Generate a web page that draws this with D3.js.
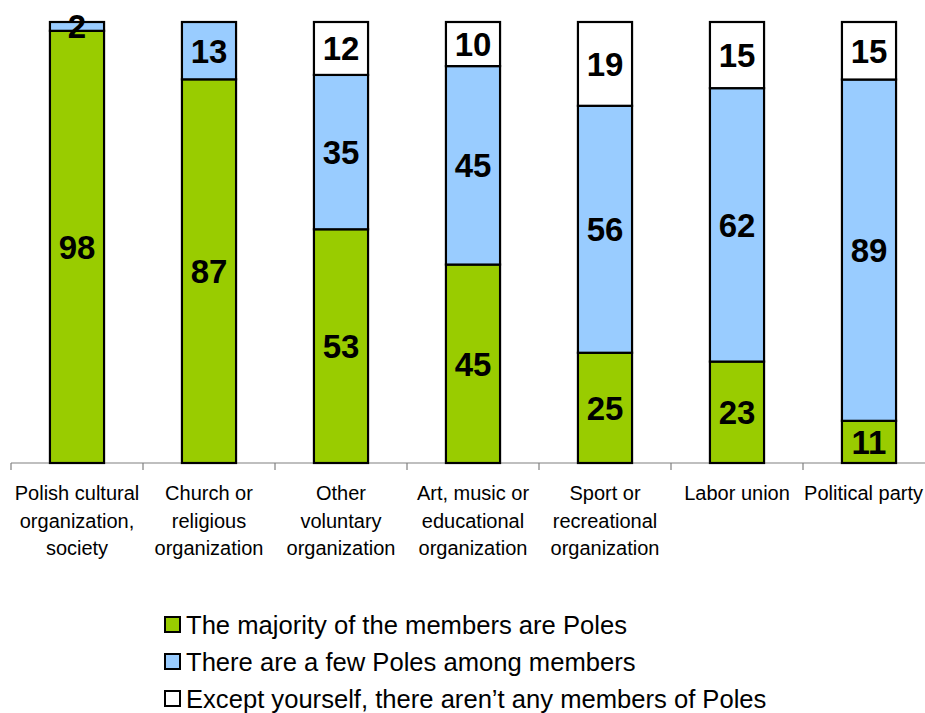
<!DOCTYPE html>
<html><head><meta charset="utf-8">
<script src="https://cdn.jsdelivr.net/npm/d3@7"></script>
<style>body{margin:0;background:#fff}svg{display:block}</style>
</head><body>
<svg id="chart" width="925" height="713"></svg>
<script>
const categories = [
  "Polish cultural|organization,|society",
  "Church or|religious|organization",
  "Other|voluntary|organization",
  "Art, music or|educational|organization",
  "Sport or|recreational|organization",
  "Labor union",
  "Political party"
];
const seriesNames = [
  "The majority of the members are Poles",
  "There are a few Poles among members",
  "Except yourself, there aren\u2019t any members of Poles"
];
const majority = [98, 87, 53, 45, 25, 23, 11];
const few      = [2, 13, 35, 45, 56, 62, 89];
const none     = [0, 0, 12, 10, 19, 15, 15];
const colors = ["#99CC00", "#99CCFF", "#FFFFFF"];

const keys = ["majority", "few", "none"];
const table = categories.map((c, i) => ({cat: c, majority: majority[i], few: few[i], none: none[i]}));
const stacked = d3.stack().keys(keys).offset(d3.stackOffsetExpand)(table);

const svg = d3.select("#chart");
const x = d3.scaleBand().domain(categories).range([11, 935]).padding(0);
const y = d3.scaleLinear().domain([0, 1]).range([463, 22]);
const barW = x.bandwidth() * 0.41;

// axis
const axisG = svg.append("g").attr("transform", "translate(0,463)");
axisG.append("line").attr("x1", 11).attr("x2", 925).attr("y1", 0).attr("y2", 0)
  .attr("stroke", "#808080").attr("stroke-width", 1.2);
const bounds = categories.map(c => x(c)).concat([x.range()[1]]);
axisG.selectAll("line.tick").data(bounds).enter().append("line")
  .attr("class", "tick").attr("x1", d => d).attr("x2", d => d)
  .attr("y1", 0).attr("y2", 7).attr("stroke", "#808080").attr("stroke-width", 1.2);

// bars
const layers = svg.selectAll("g.layer").data(stacked).enter().append("g")
  .attr("class", "layer").attr("fill", (d, i) => colors[i]);
layers.selectAll("rect").data(d => d.filter(s => s[1] - s[0] > 0)).enter().append("rect")
  .attr("x", d => x(d.data.cat) + x.bandwidth() / 2 - barW / 2)
  .attr("width", barW)
  .attr("y", d => y(d[1]))
  .attr("height", d => y(d[0]) - y(d[1]))
  .attr("stroke", "#000").attr("stroke-width", 2.2);

// value labels
stacked.forEach((layer, li) => {
  svg.append("g").selectAll("text").data(layer.filter(s => s[1] - s[0] > 0)).enter().append("text")
    .attr("x", d => x(d.data.cat) + x.bandwidth() / 2)
    .attr("y", d => (y(d[0]) + y(d[1])) / 2)
    .attr("dy", "0.36em")
    .attr("text-anchor", "middle")
    .attr("font-family", "Liberation Sans, Arial, sans-serif")
    .attr("font-weight", "bold").attr("font-size", 33)
    .attr("fill", "#000")
    .text(d => d.data[layer.key]);
});

// category labels
const catG = svg.append("g");
categories.forEach(c => {
  const lines = c.split("|");
  const cx = x(c) + x.bandwidth() / 2;
  const t = catG.append("text")
    .attr("y", 500)
    .attr("font-family", "Liberation Sans, Arial, sans-serif")
    .attr("font-size", 20).attr("fill", "#000");
  lines.forEach((l, i) => {
    t.append("tspan").attr("x", cx).attr("y", 500 + i * 27.5).attr("text-anchor", "middle").text(l);
  });
  // keep text inside the picture
  const bb = t.node().getBBox();
  if (bb.x + bb.width > 923) {
    t.selectAll("tspan").attr("x", cx - (bb.x + bb.width - 923));
  }
});

// legend
const leg = svg.append("g").attr("transform", "translate(165,617)");
seriesNames.forEach((n, i) => {
  const g = leg.append("g").attr("transform", `translate(0,${i * 37})`);
  g.append("rect").attr("x", 0).attr("y", 0).attr("width", 15).attr("height", 15)
    .attr("fill", colors[i]).attr("stroke", "#000").attr("stroke-width", 2);
  g.append("text").attr("x", 21).attr("y", 17)
    .attr("font-family", "Liberation Sans, Arial, sans-serif")
    .attr("font-size", 25.6).attr("fill", "#000").text(n);
});
</script>
</body></html>
